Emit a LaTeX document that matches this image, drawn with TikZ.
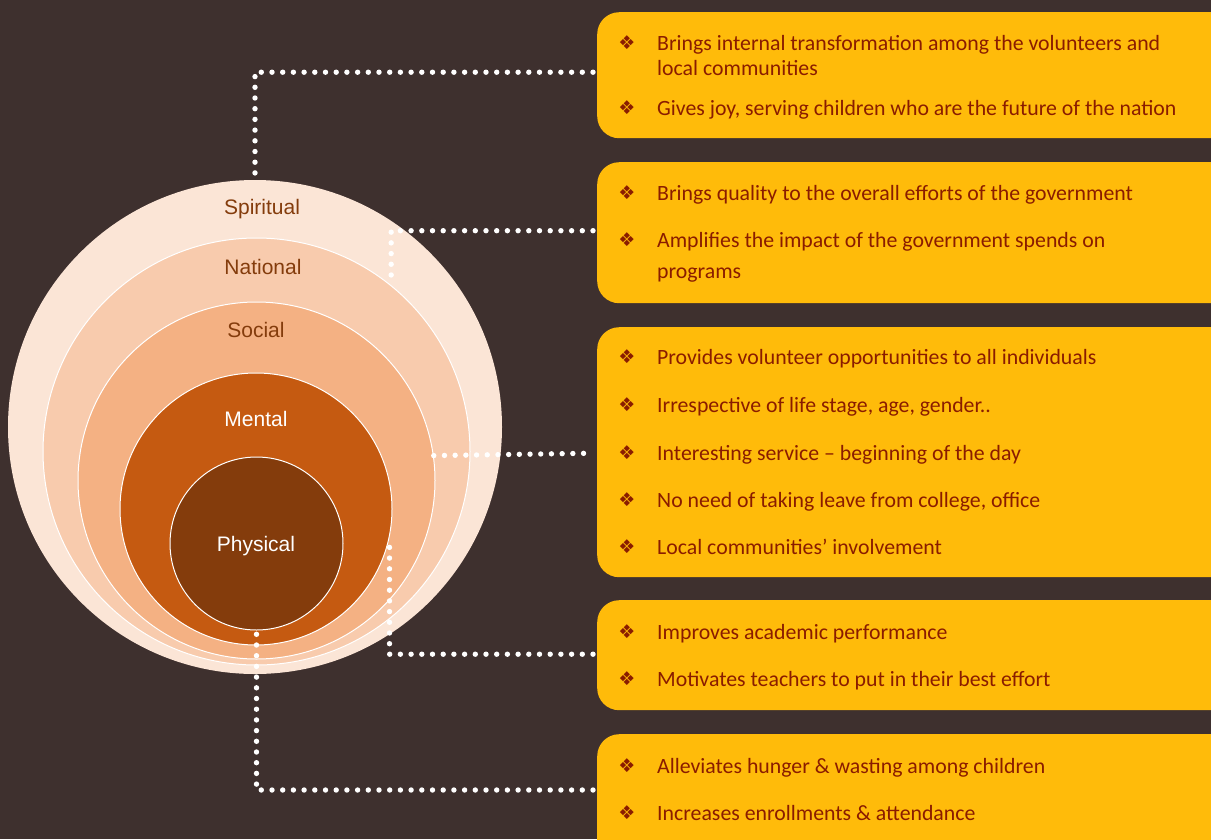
\documentclass[tikz,border=0pt]{standalone}
\usepackage{fontspec}
\setmainfont{Carlito}
\newfontfamily\arialf{Liberation Sans}
\newfontfamily\symf{DejaVu Sans}
\definecolor{bg}{HTML}{3E302E}
\definecolor{ringA}{HTML}{FBE5D6}
\definecolor{ringB}{HTML}{F8CBAD}
\definecolor{ringC}{HTML}{F4B183}
\definecolor{ringD}{HTML}{C55A11}
\definecolor{ringE}{HTML}{843C0C}
\definecolor{boxc}{HTML}{FFBB0A}
\definecolor{txtc}{HTML}{8A1C00}
\tikzset{
  ring/.style={circle, inner sep=0pt, draw=white, line width=1pt},
  lab/.style={font=\arialf\fontsize{21}{24}\selectfont, text=ringE, inner sep=0pt},
  labw/.style={lab, text=white},
  infobox/.style={rectangle, rounded corners=22pt, fill=boxc, anchor=north west, minimum width=640pt, inner sep=0pt},
  item/.style={font=\fontsize{21.8}{25}\selectfont, text=txtc, anchor=base west, inner sep=0pt, align=left},
  bul/.style={font=\symf\fontsize{19}{20}\selectfont, text=txtc, inner sep=0pt},
  dots/.style={white, line width=5.4pt, line cap=round, dash pattern=on 0pt off 10.7pt}
}
\begin{document}
\begin{tikzpicture}[x=1pt,y=-1pt]
\useasboundingbox (0,0) rectangle (1211,839);
\fill[bg] (0,0) rectangle (1211,839);
\begin{scope}
\clip (0,0) rectangle (1211,839);
% circles
\node[ring, fill=ringA, draw=none, minimum size=494pt] (spi) at (255,427) {};
\node[ring, fill=ringB, minimum size=427pt] (nat) at (256.5,451.5) {};
\node[ring, fill=ringC, minimum size=357pt] (soc) at (256.5,480.5) {};
\node[ring, fill=ringD, minimum size=272pt] (men) at (256,509) {};
\node[ring, fill=ringE, minimum size=173pt] (phy) at (256.5,543.5) {};
\node[lab] (lspi) at (262,209) {Spiritual};
\node[lab] (lnat) at (263,267) {National};
\node[lab] (lsoc) at (256,330) {Social};
\node[labw] (lmen) at (256,419) {Mental};
\node[labw] (lphy) at (256,546) {Physical};
% boxes
\node[infobox, minimum height=126pt] (b1) at (597,12) {};
\node[infobox, minimum height=141pt] (b2) at (597,162) {};
\node[infobox, minimum height=250pt] (b3) at (597,327) {};
\node[infobox, minimum height=110pt] (b4) at (597,600) {};
\node[infobox, minimum height=130pt] (b5) at (597,734) {};
% box 1
\node[bul] (u11) at (627,43) {❖};
\node[item] (t11) at (657,75) {Brings internal transformation among the volunteers and\\local communities};
\node[bul] (u12) at (627,108) {❖};
\node[item] (t12) at (657,115) {Gives joy, serving children who are the future of the nation};
% box 2
\node[bul] (u21) at (627,193) {❖};
\node[item] (t21) at (657,200) {Brings quality to the overall efforts of the government};
\node[bul] (u22) at (627,240) {❖};
\node[item, font=\fontsize{21.8}{31}\selectfont] (t22) at (657,278) {Amplifies the impact of the government spends on\\programs};
% box 3
\node[bul] (u31) at (627,357) {❖};
\node[item] (t31) at (657,364) {Provides volunteer opportunities to all individuals};
\node[bul] (u32) at (627,405) {❖};
\node[item] (t32) at (657,412) {Irrespective of life stage, age, gender..};
\node[bul] (u33) at (627,453) {❖};
\node[item] (t33) at (657,460) {Interesting service – beginning of the day};
\node[bul] (u34) at (627,500) {❖};
\node[item] (t34) at (657,507) {No need of taking leave from college, office};
\node[bul] (u35) at (627,547) {❖};
\node[item] (t35) at (657,554) {Local communities' involvement};
% box 4
\node[bul] (u41) at (627,632) {❖};
\node[item] (t41) at (657,639) {Improves academic performance};
\node[bul] (u42) at (627,679) {❖};
\node[item] (t42) at (657,686) {Motivates teachers to put in their best effort};
% box 5
\node[bul] (u51) at (627,766) {❖};
\node[item] (t51) at (657,773) {Alleviates hunger \& wasting among children};
\node[bul] (u52) at (627,813) {❖};
\node[item] (t52) at (657,820) {Increases enrollments \& attendance};
% connectors
\draw[dots] ([xshift=-4pt,yshift=3pt]b1.west) -| (spi.north);
\draw[dots] ([xshift=-4pt,yshift=2pt]b2.west) -| (nat.51.3);
\draw[dots] (soc.8.9) -- ([xshift=-4pt,yshift=-1pt]b3.west);
\draw[dots] ([xshift=-4pt,yshift=1pt]b4.west) -| (men.-12);
\draw[dots] ([xshift=-4pt]b5.west |- 0,790) -| (phy.south);
\end{scope}
\end{tikzpicture}
\end{document}
